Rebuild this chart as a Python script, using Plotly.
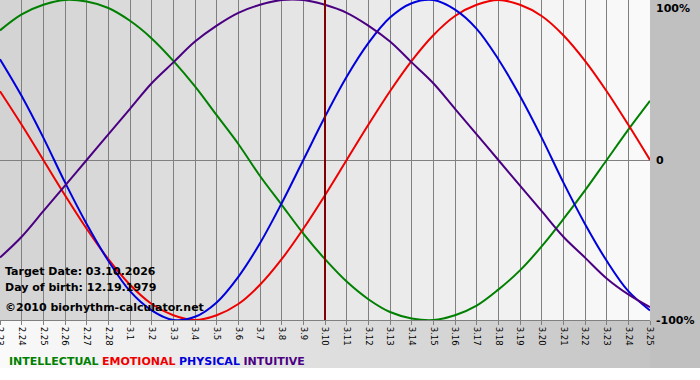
import plotly.graph_objects as go

# ---- data ----
dates = ["2.23", "2.24", "2.25", "2.26", "2.27", "2.28",
         "3.1", "3.2", "3.3", "3.4", "3.5", "3.6", "3.7", "3.8", "3.9", "3.10",
         "3.11", "3.12", "3.13", "3.14", "3.15", "3.16", "3.17", "3.18", "3.19",
         "3.20", "3.21", "3.22", "3.23", "3.24", "3.25"]

intellectual = [0.81, 0.91, 0.97, 1.00, 0.99, 0.95, 0.87, 0.76, 0.62, 0.46, 0.28,
                0.10, -0.10, -0.28, -0.46, -0.62, -0.76, -0.87, -0.95, -0.99, -1.00,
                -0.97, -0.91, -0.81, -0.69, -0.54, -0.37, -0.19, 0.00, 0.19, 0.37]
emotional = [0.43, 0.22, 0.00, -0.22, -0.43, -0.62, -0.78, -0.90, -0.97, -1.00, -0.97,
             -0.90, -0.78, -0.62, -0.43, -0.22, 0.00, 0.22, 0.43, 0.62, 0.78,
             0.90, 0.97, 1.00, 0.97, 0.90, 0.78, 0.62, 0.43, 0.22, 0.00]
physical = [0.63, 0.40, 0.14, -0.14, -0.40, -0.63, -0.82, -0.94, -1.00, -0.98, -0.89,
            -0.73, -0.52, -0.27, 0.00, 0.27, 0.52, 0.73, 0.89, 0.98, 1.00,
            0.94, 0.82, 0.63, 0.40, 0.14, -0.14, -0.40, -0.63, -0.82, -0.94]
intuitive = [-0.61, -0.48, -0.32, -0.16, 0.00, 0.16, 0.32, 0.48, 0.61, 0.74, 0.84,
             0.92, 0.97, 1.00, 1.00, 0.97, 0.92, 0.84, 0.74, 0.61, 0.48,
             0.32, 0.16, 0.00, -0.16, -0.32, -0.48, -0.61, -0.74, -0.84, -0.92]

target_label = "3.10"
series_names = ["INTELLECTUAL", "EMOTIONAL", "PHYSICAL", "INTUITIVE"]
series_colors = ["#008000", "#ee0000", "#0000dd", "#4b0082"]
y_labels = ["100%", "0", "-100%"]
y_label_vals = [1, 0, -1]
info_lines = ["Target Date: 03.10.2026", "Day of birth: 12.19.1979",
              "\u00a92010 biorhythm-calculator.net"]

FONT = "DejaVu Sans"

fig = go.Figure()
for name, vals, col in zip(series_names, [intellectual, emotional, physical, intuitive], series_colors):
    fig.add_trace(go.Scatter(x=dates, y=vals, mode="lines", name=name,
                             line=dict(color=col, width=2, shape="spline", smoothing=1),
                             hoverinfo="skip"))

shapes = []
# plot-area horizontal gradient (dark left -> light right)
n = 65
for k in range(n):
    t = k / (n - 1)
    g = int(round(211 + (250 - 211) * t))
    shapes.append(dict(type="rect", xref="paper", yref="paper",
                       x0=k / n, x1=(k + 1) / n + 0.001, y0=0, y1=1,
                       fillcolor=f"rgb({g},{g},{g})", line=dict(width=0), layer="below"))
# bottom strip gradient (white left -> gray right)
W = 700 / 650
ybot = (320 - 368) / 320
m = 70
for k in range(m):
    t = k / (m - 1)
    g = int(round(250 + (192 - 250) * t))
    shapes.append(dict(type="rect", xref="paper", yref="paper",
                       x0=W * k / m, x1=W * (k + 1) / m + 0.001, y0=ybot, y1=0,
                       fillcolor=f"rgb({g},{g},{g})", line=dict(width=0), layer="below"))
# right margin gray
shapes.append(dict(type="rect", xref="paper", yref="paper", x0=1, x1=W, y0=ybot, y1=1,
                   fillcolor="#c0c0c0", line=dict(width=0), layer="below"))
# target date line
ti = dates.index(target_label)
shapes.append(dict(type="line", xref="x", yref="paper", x0=ti, x1=ti,
                   y0=0, y1=1, line=dict(color="#800000", width=2), layer="above"))

annotations = []
for lab, v in zip(y_labels, y_label_vals):
    annotations.append(dict(x=1, xref="paper", y=v, yref="y", text=f"<b>{lab}</b>",
                            showarrow=False, xanchor="left", xshift=4,
                            yanchor="top" if v == 1 else "middle",
                            font=dict(family=FONT, size=11, color="black")))
info_y = [271, 287, 307]
for txt, py in zip(info_lines, info_y):
    annotations.append(dict(x=3 / 650, xref="paper", y=(320 - py) / 320, yref="paper",
                            text=f"<b>{txt}</b>", showarrow=False, xanchor="left",
                            yanchor="middle", font=dict(family=FONT, size=11, color="black")))
legend_txt = " ".join(f"<span style='color:{c}'><b>{nm}</b></span>"
                      for nm, c in zip(series_names, series_colors))
annotations.append(dict(x=7 / 650, xref="paper", y=(320 - 361) / 320, yref="paper",
                        text=legend_txt, showarrow=False, xanchor="left", yanchor="middle",
                        font=dict(family=FONT, size=11)))

fig.update_layout(
    width=700, height=380,
    margin=dict(l=0, r=50, t=0, b=60, autoexpand=False),
    paper_bgcolor="white", plot_bgcolor="rgba(0,0,0,0)",
    showlegend=False,
    shapes=shapes, annotations=annotations,
    xaxis=dict(type="category", range=[0, len(dates) - 1], tickmode="array",
               tickvals=dates, ticktext=dates, tickangle=90, automargin=False,
               showgrid=True, gridcolor="#808080", gridwidth=1,
               ticks="outside", ticklen=4, tickcolor="#808080",
               showline=True, linecolor="#808080", linewidth=1,
               tickfont=dict(family=FONT, size=8.5, color="black"), fixedrange=True),
    yaxis=dict(range=[-1, 1], showgrid=False, zeroline=True, zerolinecolor="#808080",
               zerolinewidth=1, showticklabels=False, automargin=False, fixedrange=True),
)

fig.write_html("out.html", config={"displayModeBar": False},
               post_script="document.body.style.margin='0';document.body.style.overflow='hidden';")
